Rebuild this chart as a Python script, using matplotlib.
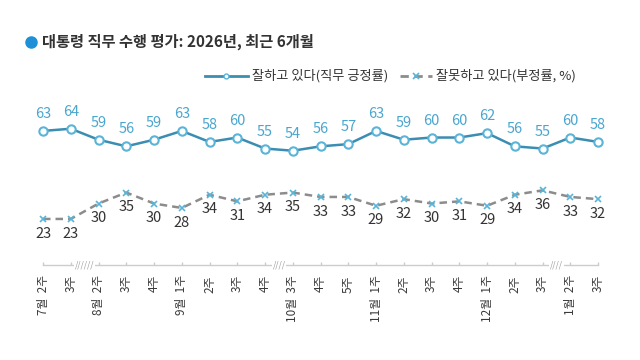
import matplotlib
matplotlib.use("Agg")
import matplotlib.pyplot as plt
from matplotlib.lines import Line2D

plt.rcParams["font.family"] = ["Noto Sans CJK KR", "DejaVu Sans"]

# ── Data ──────────────────────────────────────────────────────────────────────
weeks = ["7월  2주", "3주", "8월  2주", "3주", "4주", "9월  1주", "2주", "3주", "4주",
         "10월  3주", "4주", "5주", "11월  1주", "2주", "3주", "4주",
         "12월  1주", "2주", "3주", "1월  2주", "3주"]
approve = [63, 64, 59, 56, 59, 63, 58, 60, 55, 54, 56, 57, 63, 59, 60, 60, 62, 56, 55, 60, 58]
disapprove = [23, 23, 30, 35, 30, 28, 34, 31, 34, 35, 33, 33, 29, 32, 30, 31, 29, 34, 36, 33, 32]
breaks = [(1.5, "//////"), (8.5, "////"), (18.5, "////")]

BLUE_LINE = "#3b8db2"
BLUE_MARK = "#5ab4d8"
BLUE_TEXT = "#4aa6cf"
GRAY_LINE = "#8c8c8c"
DARK = "#333333"

fig = plt.figure(figsize=(6.4, 3.6), dpi=100)
ax = fig.add_axes([0, 0, 1, 1])
ax.set_xlim(-1.55, 21.51)
ax.set_ylim(-41.1, 122.5)
ax.axis("off")

xs = list(range(len(weeks)))

# series
ax.plot(xs, approve, color=BLUE_LINE, lw=1.8, marker="o", ms=6,
        mfc="white", mec=BLUE_MARK, mew=1.5, zorder=3)
ax.plot(xs, disapprove, color=GRAY_LINE, lw=1.8, dashes=(3, 2), marker="x",
        ms=5, mec=BLUE_MARK, mew=1.2, zorder=3)

for x, v in zip(xs, approve):
    ax.text(x, v + 4.5, str(v), ha="center", va="bottom", fontsize=10.5,
            color=BLUE_TEXT)
for x, v in zip(xs, disapprove):
    ax.text(x, v - 3.5, str(v), ha="center", va="top", fontsize=10.5,
            color=DARK)

# bottom axis line with breaks
base = 2
ax.plot([xs[0], xs[-1]], [base, base], color="#cccccc", lw=1, zorder=1)
ax.vlines(xs, base, base + 1.5, color="#cccccc", lw=1)
for bx, s in breaks:
    ax.text(bx, base, s, ha="center", va="center", fontsize=6, style="italic",
            color="#999999", bbox=dict(fc="white", ec="none", pad=0.5), zorder=2)

for x, lab in zip(xs, weeks):
    ax.text(x, base - 4.5, lab, rotation=90, ha="center", va="top",
            fontsize=8.5, color="#3a3a3a")

# ── Title and legend ──────────────────────────────────────────────────────────
def fx(px):
    return px / 640


def fy(py):
    return 1 - py / 360


fig.add_artist(Line2D([fx(31)], [fy(42)], marker="o", ms=8, color="#1e90d8",
                      transform=fig.transFigure))
fig.text(fx(42), fy(42), "대통령 직무 수행 평가: 2026년, 최근 6개월",
         ha="left", va="center", fontsize=11, fontweight="bold", color=DARK)

fig.add_artist(Line2D([fx(205), fx(248)], [fy(76), fy(76)], lw=2,
                      color=BLUE_LINE, transform=fig.transFigure))
fig.add_artist(Line2D([fx(226)], [fy(76)], marker="o", ms=3.5, mfc="white",
                      mec=BLUE_MARK, transform=fig.transFigure))
fig.text(fx(252), fy(76), "잘하고 있다(직무 긍정률)", ha="left", va="center",
         fontsize=9.5, color=DARK)

fig.add_artist(Line2D([fx(400), fx(432)], [fy(76), fy(76)], lw=2,
                      dashes=(3, 2), color=GRAY_LINE, transform=fig.transFigure))
fig.add_artist(Line2D([fx(416)], [fy(76)], marker="x", ms=4, mec=BLUE_MARK,
                      mew=1.2, transform=fig.transFigure))
fig.text(fx(436), fy(76), "잘못하고 있다(부정률, %)", ha="left", va="center",
         fontsize=9.5, color=DARK)

fig.savefig("out.png", dpi=100)
plt.close(fig)
